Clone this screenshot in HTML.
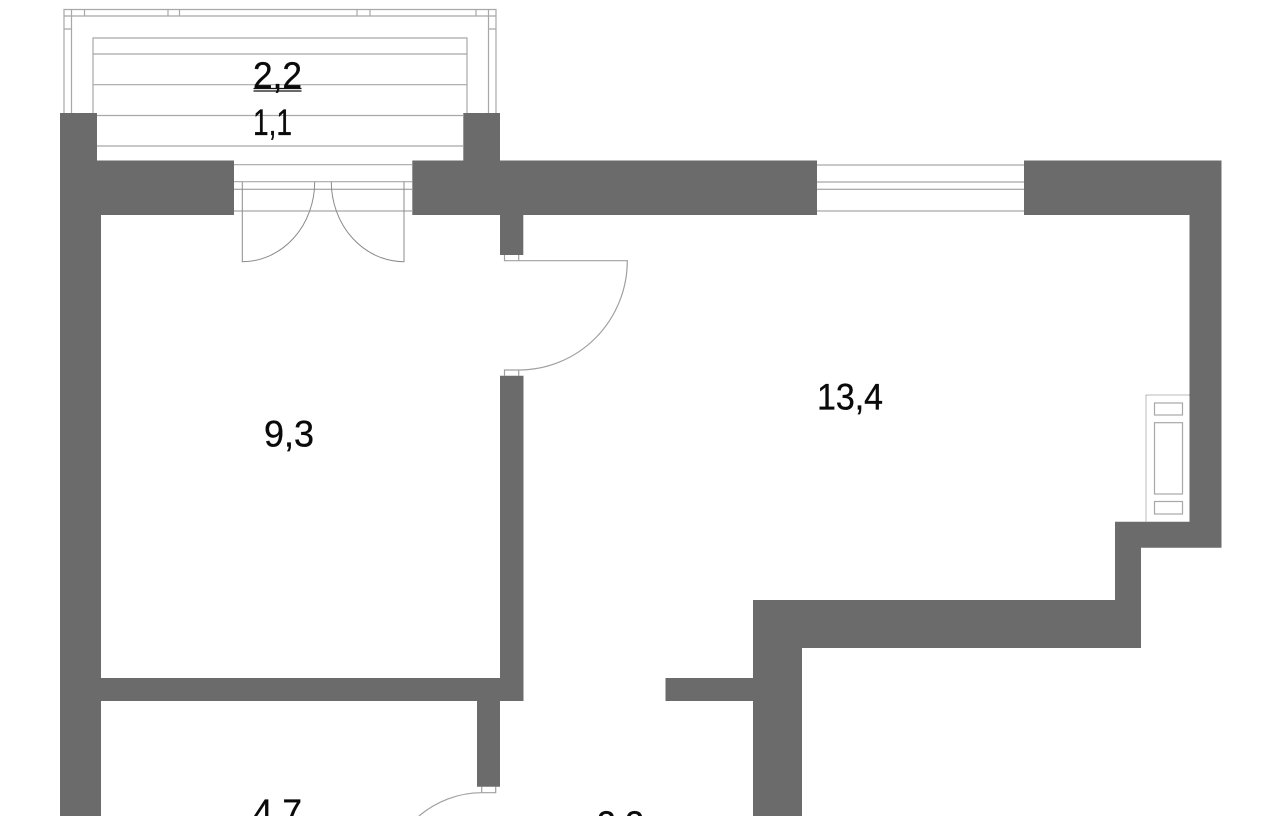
<!DOCTYPE html>
<html>
<head>
<meta charset="utf-8">
<style>
html,body{margin:0;padding:0;background:#fff;width:1280px;height:816px;overflow:hidden}
svg{display:block}
text{font-family:"Liberation Sans",sans-serif;font-size:37px;fill:#0a0a0a;stroke:#0a0a0a;stroke-width:.35px}
</style>
</head>
<body>
<svg width="1280" height="816" viewBox="0 0 1280 816" xmlns="http://www.w3.org/2000/svg">
<g fill="none" stroke="#a8a8a8" stroke-width="1.2">
  <!-- balcony frame -->
  <path d="M64 113V9.5H496V113M64 16H496M71.5 9.5V113M488.5 9.5V113M64 29H71.5M488.5 29H496"/>
  <path d="M84.5 9.5V16M168 9.5V16M179.5 9.5V16M357 9.5V16M370 9.5V16M476 9.5V16"/>
  <!-- balcony slats -->
  <path d="M93 113V38H467V113M93 54H467M93 84.7H467M97 115.5H463M97 146H463"/>
  <!-- balcony door opening -->
  <path d="M234 164.7H412M234 181.7H412"/>
  <path d="M234 189.3H412M234 211H412" stroke="#909090" stroke-width="1"/>
  <path d="M242.3 181.7V261.7A72.4 80 0 0 0 314.7 181.7" stroke="#8c8c8c" stroke-width="1"/>
  <path d="M404 181.7V261.7A72.7 80 0 0 1 331.3 181.7" stroke="#8c8c8c" stroke-width="1"/>
  <!-- window right -->
  <path d="M817 165H1024M817 182H1024M817 211H1024"/>
  <path d="M817 189.3H1024" stroke="#909090" stroke-width="1"/>
  <!-- room door -->
  <path d="M504.5 255V260.7H518.7V255M518.7 260.7H627.3A108.6 109.3 0 0 1 518.7 370M504.5 375.7V370H518.7V375.7" stroke="#a0a0a0"/>
  <!-- lower door -->
  <path d="M481.7 786.7V792.7H495.7V786.7M481.7 792.7A97 97 0 0 0 419 816" stroke="#a0a0a0"/>
  <!-- radiator -->
  <path d="M1189.5 395H1146V522" stroke="#777" stroke-width="1" stroke-dasharray="1 1"/>
  <rect x="1154.5" y="403" width="28" height="12"/>
  <rect x="1154.5" y="422.7" width="28" height="71.3"/>
  <rect x="1154.5" y="501.5" width="28" height="12.5"/>
</g>
<!-- walls -->
<g fill="#6b6b6b">
  <path d="M60 113H97V160.5H234V215H101V678H500V375.7H523.5V701H500V786.7H477V701H101V816H60Z"/>
  <path d="M463.3 113H500V160.5H817V215H523.3V255H500V215H412.3V160.5H463.3Z"/>
  <path d="M1024 160.5H1221.5V547.7H1141V648H802V816H753V701H665.5V678H753V600H1115V521.7H1189.5V215H1024Z"/>
</g>
<!-- labels -->
<text x="253" y="88" textLength="49" lengthAdjust="spacingAndGlyphs">2,2</text>
<path d="M253.5 88.5H301.5M253.5 91H301.5" stroke="#111" stroke-width="1.2" fill="none"/>
<text x="253" y="135" textLength="39" lengthAdjust="spacingAndGlyphs">1,1</text>
<text x="264" y="446.7" textLength="50" lengthAdjust="spacingAndGlyphs">9,3</text>
<text x="817" y="409.3" textLength="66" lengthAdjust="spacingAndGlyphs">13,4</text>
<text x="253" y="825" textLength="49" lengthAdjust="spacingAndGlyphs">4,7</text>
<text x="597" y="837" textLength="47" lengthAdjust="spacingAndGlyphs">3,3</text>
</svg>
</body>
</html>
